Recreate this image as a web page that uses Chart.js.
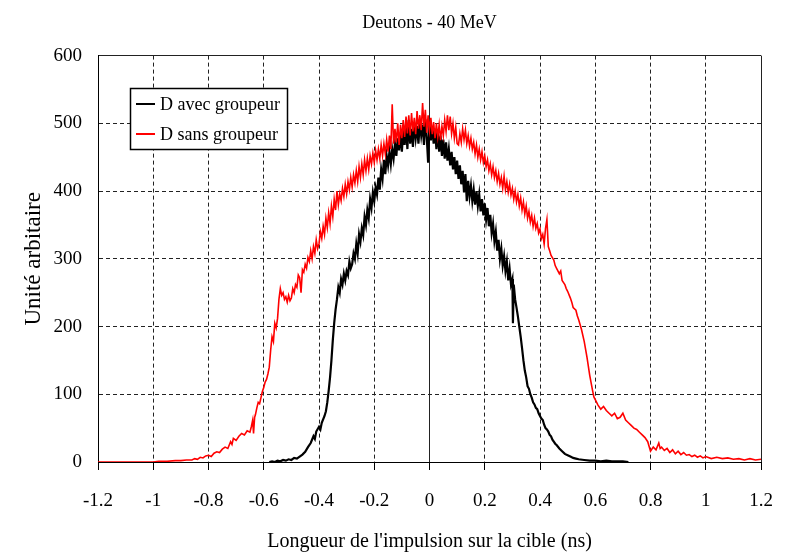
<!DOCTYPE html>
<html>
<head>
<meta charset="utf-8">
<script src="https://cdn.jsdelivr.net/npm/chart.js@4"></script>
<style>
  html, body { margin: 0; padding: 0; background: #fff; }
  canvas { display: block; }
</style>
</head>
<body>
<canvas id="c" width="786" height="553"></canvas>
<script>
const chartTitle = 'Deutons - 40 MeV';
const xTitle = "Longueur de l'impulsion sur la cible (ns)";
const yTitle = 'Unité arbitaire';
const seriesLabels = ['D avec groupeur', 'D sans groupeur'];
const xTickValues = [-1.2, -1, -0.8, -0.6, -0.4, -0.2, 0, 0.2, 0.4, 0.6, 0.8, 1, 1.2];
const yTickValues = [0, 100, 200, 300, 400, 500, 600];

// D avec groupeur  [x (ns), value]
const avecPoints = [
[-0.58,0],[-0.57,1],[-0.56,0],[-0.55,2],[-0.54,1],[-0.53,3],[-0.52,2],[-0.51,4],[-0.50,3],[-0.49,6],
[-0.48,5],[-0.47,8],[-0.46,11],[-0.45,15],[-0.44,22],[-0.43,28],[-0.42,38],[-0.415,34],[-0.41,45],[-0.40,52],
[-0.395,48],[-0.39,58],[-0.38,68],[-0.375,75],[-0.37,88],[-0.365,105],[-0.36,125],[-0.355,150],[-0.35,180],[-0.345,205],
[-0.34,225],[-0.335,240],[-0.33,258],[-0.325,250],[-0.32,270],[-0.315,262],[-0.31,278],[-0.305,268],[-0.30,282],[-0.295,276],
[-0.29,296],[-0.285,286],[-0.28,292],[-0.275,308],[-0.27,300],[-0.265,322],[-0.26,308],[-0.255,336],[-0.25,325],[-0.245,345],
[-0.24,335],[-0.235,362],[-0.23,350],[-0.225,372],[-0.22,360],[-0.215,388],[-0.21,375],[-0.205,398],[-0.20,385],[-0.195,405],
[-0.19,395],[-0.185,420],[-0.18,402],[-0.175,432],[-0.17,418],[-0.165,446],[-0.16,425],[-0.155,452],[-0.15,438],[-0.145,458],
[-0.14,440],[-0.135,462],[-0.13,448],[-0.125,470],[-0.12,452],[-0.115,478],[-0.11,460],[-0.105,486],[-0.10,458],[-0.095,490],
[-0.09,468],[-0.085,498],[-0.08,462],[-0.075,505],[-0.07,470],[-0.065,492],[-0.06,465],[-0.055,500],[-0.05,478],[-0.045,496],
[-0.04,470],[-0.035,502],[-0.03,482],[-0.025,498],[-0.02,468],[-0.015,506],[-0.01,480],[-0.005,442],[0.00,502],[0.005,475],
[0.01,495],[0.015,470],[0.02,492],[0.025,462],[0.03,488],[0.035,458],[0.04,482],[0.045,452],[0.05,476],[0.055,448],
[0.06,472],[0.065,445],[0.07,462],[0.075,438],[0.08,458],[0.085,432],[0.09,450],[0.095,425],[0.10,445],[0.105,418],
[0.11,438],[0.115,410],[0.12,430],[0.125,398],[0.13,425],[0.135,385],[0.14,415],[0.145,392],[0.15,408],[0.155,385],
[0.16,402],[0.165,380],[0.17,400],[0.175,378],[0.18,395],[0.185,370],[0.19,388],[0.195,364],[0.20,382],[0.205,358],
[0.21,375],[0.215,348],[0.22,365],[0.225,338],[0.23,352],[0.235,326],[0.24,340],[0.245,312],[0.25,328],[0.255,300],
[0.26,315],[0.265,290],[0.27,304],[0.275,282],[0.28,296],[0.285,268],[0.29,285],[0.295,262],[0.30,270],[0.302,205],
[0.305,262],[0.31,240],[0.315,228],[0.32,215],[0.325,200],[0.33,185],[0.335,168],[0.34,150],[0.345,135],[0.35,125],
[0.355,112],[0.36,108],[0.365,100],[0.37,95],[0.375,88],[0.38,85],[0.385,80],[0.39,78],[0.395,72],[0.40,68],
[0.405,64],[0.41,62],[0.415,55],[0.42,50],[0.425,48],[0.43,45],[0.435,40],[0.44,38],[0.445,33],[0.45,30],
[0.455,27],[0.46,25],[0.47,20],[0.48,16],[0.49,12],[0.50,10],[0.51,8],[0.52,6],[0.53,5],[0.54,4],
[0.56,3],[0.58,2],[0.60,2],[0.62,1],[0.64,2],[0.66,1],[0.70,1],[0.72,0]
];

// D sans groupeur  [x (ns), value]
const sansPoints = [
[-1.2,0],[-1.0,0],[-0.98,1],[-0.95,1],[-0.92,2],[-0.9,2],[-0.88,3],[-0.86,3],[-0.85,5],[-0.84,4],
[-0.83,7],[-0.82,6],[-0.81,9],[-0.80,10],[-0.79,8],[-0.78,13],[-0.77,15],[-0.76,14],[-0.75,19],[-0.74,22],
[-0.73,20],[-0.72,30],[-0.715,26],[-0.71,35],[-0.70,32],[-0.69,38],[-0.68,42],[-0.67,40],[-0.66,46],[-0.65,44],
[-0.645,52],[-0.64,62],[-0.637,42],[-0.633,66],[-0.63,70],[-0.625,80],[-0.62,88],[-0.615,86],[-0.61,95],[-0.605,104],
[-0.60,110],[-0.595,118],[-0.59,122],[-0.585,130],[-0.58,140],[-0.575,165],[-0.57,185],[-0.565,178],[-0.56,205],[-0.555,198],
[-0.55,212],[-0.545,240],[-0.54,256],[-0.535,246],[-0.53,250],[-0.525,240],[-0.52,244],[-0.515,236],[-0.51,246],[-0.505,238],
[-0.50,242],[-0.495,256],[-0.49,250],[-0.485,262],[-0.48,258],[-0.475,276],[-0.47,272],[-0.465,250],[-0.46,284],[-0.455,280],
[-0.45,292],[-0.445,286],[-0.44,302],[-0.435,296],[-0.43,312],[-0.425,300],[-0.42,318],[-0.415,308],[-0.41,328],[-0.405,315],
[-0.40,322],[-0.395,340],[-0.39,330],[-0.385,348],[-0.38,336],[-0.375,360],[-0.37,346],[-0.365,368],[-0.36,352],[-0.355,378],
[-0.35,362],[-0.345,388],[-0.34,372],[-0.335,400],[-0.33,380],[-0.325,396],[-0.32,386],[-0.315,404],[-0.31,392],[-0.305,410],
[-0.30,396],[-0.295,414],[-0.29,402],[-0.285,420],[-0.28,406],[-0.275,424],[-0.27,412],[-0.265,430],[-0.26,414],[-0.255,436],
[-0.25,420],[-0.245,440],[-0.24,424],[-0.235,446],[-0.23,430],[-0.225,448],[-0.22,432],[-0.215,452],[-0.21,440],[-0.205,456],
[-0.20,442],[-0.195,460],[-0.19,446],[-0.185,462],[-0.18,448],[-0.175,468],[-0.17,452],[-0.165,470],[-0.16,455],[-0.155,476],
[-0.15,458],[-0.145,482],[-0.14,462],[-0.135,528],[-0.13,470],[-0.125,492],[-0.12,472],[-0.115,500],[-0.11,468],[-0.105,498],
[-0.10,478],[-0.095,505],[-0.09,480],[-0.085,510],[-0.08,485],[-0.075,512],[-0.07,482],[-0.065,515],[-0.06,488],[-0.055,508],
[-0.05,484],[-0.045,518],[-0.04,492],[-0.035,512],[-0.03,490],[-0.025,530],[-0.02,495],[-0.015,520],[-0.01,486],[-0.005,512],
[0.00,490],[0.005,508],[0.01,484],[0.015,502],[0.02,478],[0.025,500],[0.03,480],[0.035,498],[0.04,475],[0.045,496],
[0.05,482],[0.055,505],[0.06,488],[0.065,512],[0.07,490],[0.075,510],[0.08,485],[0.085,500],[0.09,478],[0.095,494],
[0.10,470],[0.105,468],[0.11,485],[0.115,472],[0.12,492],[0.125,476],[0.13,490],[0.135,470],[0.14,482],[0.145,466],
[0.15,478],[0.155,462],[0.16,472],[0.165,455],[0.17,468],[0.175,450],[0.18,462],[0.185,446],[0.19,458],[0.195,442],
[0.20,452],[0.205,436],[0.21,446],[0.215,430],[0.22,440],[0.225,424],[0.23,436],[0.235,420],[0.24,430],[0.245,414],
[0.25,426],[0.255,410],[0.26,420],[0.265,404],[0.27,422],[0.275,402],[0.28,414],[0.285,398],[0.29,410],[0.295,394],
[0.30,404],[0.305,388],[0.31,400],[0.315,384],[0.32,395],[0.325,378],[0.33,390],[0.335,372],[0.34,384],[0.345,366],
[0.35,378],[0.355,360],[0.36,370],[0.365,354],[0.37,364],[0.375,348],[0.38,360],[0.385,345],[0.39,352],[0.395,338],
[0.40,344],[0.405,330],[0.41,336],[0.415,322],[0.42,345],[0.425,358],[0.43,318],[0.435,312],[0.44,305],[0.45,298],
[0.455,290],[0.46,286],[0.47,278],[0.475,282],[0.48,268],[0.49,262],[0.495,256],[0.50,252],[0.51,242],[0.515,236],
[0.52,228],[0.53,224],[0.535,216],[0.54,210],[0.55,196],[0.56,178],[0.57,155],[0.58,128],[0.59,106],[0.595,96],
[0.60,92],[0.61,84],[0.62,78],[0.63,82],[0.64,76],[0.65,72],[0.66,68],[0.67,72],[0.68,64],[0.69,66],
[0.70,72],[0.71,62],[0.72,58],[0.73,54],[0.74,50],[0.75,48],[0.76,44],[0.77,40],[0.78,36],[0.79,30],
[0.80,16],[0.81,22],[0.82,18],[0.83,28],[0.835,20],[0.84,22],[0.85,17],[0.86,20],[0.87,14],[0.88,18],
[0.89,12],[0.90,16],[0.91,11],[0.92,14],[0.93,10],[0.94,11],[0.95,8],[0.96,10],[0.97,7],[0.98,9],
[0.99,6],[1.00,8],[1.02,5],[1.04,7],[1.06,5],[1.08,6],[1.10,4],[1.12,5],[1.14,3],[1.16,5],
[1.18,3],[1.20,4]
];

const seriesColors = ['#000000', '#ff0000'];
const SERIF = '"Liberation Serif", "Times New Roman", "DejaVu Serif", serif';
Chart.defaults.font.family = SERIF;
Chart.defaults.color = '#000';

const toXY = pts => pts.map(([x, y]) => ({ x, y }));
const fmt = v => { const r = Math.round(v * 10) / 10; return (Object.is(r, -0) ? 0 : r).toString(); };

function dashFor(min, max) {
  return ctx => {
    if (!ctx.tick) return [];
    const v = ctx.tick.value;
    if (Math.abs(v) < 1e-9 || Math.abs(v - min) < 1e-9 || Math.abs(v - max) < 1e-9) return [];
    return [4, 3];
  };
}

const boxLegend = {
  id: 'boxLegend',
  afterDraw(chart) {
    const { ctx, chartArea } = chart;
    const x0 = Math.round(chartArea.left) + 32, y0 = Math.round(chartArea.top) + 32, w = 157, h = 61;
    ctx.save();
    ctx.fillStyle = '#fff';
    ctx.fillRect(x0, y0, w, h);
    ctx.strokeStyle = '#000';
    ctx.lineWidth = 1.5;
    ctx.strokeRect(x0 + 0.5, y0 + 0.5, w, h);
    ctx.font = '18px ' + SERIF;
    ctx.textBaseline = 'middle';
    ctx.textAlign = 'left';
    chart.data.datasets.forEach((ds, i) => {
      const y = y0 + 16 + i * 30;
      ctx.strokeStyle = ds.borderColor;
      ctx.lineWidth = 2;
      ctx.beginPath();
      ctx.moveTo(x0 + 6, y);
      ctx.lineTo(x0 + 25, y);
      ctx.stroke();
      ctx.fillStyle = '#000';
      ctx.fillText(ds.label, x0 + 30, y + 1);
    });
    ctx.restore();
  }
};

new Chart(document.getElementById('c'), {
  type: 'line',
  data: {
    datasets: [
      { label: seriesLabels[0], data: toXY(avecPoints), borderColor: seriesColors[0], borderWidth: 2.2, pointRadius: 0, tension: 0, order: 1 },
      { label: seriesLabels[1], data: toXY(sansPoints), borderColor: seriesColors[1], borderWidth: 1.6, pointRadius: 0, tension: 0, order: 0 }
    ]
  },
  options: {
    responsive: false,
    animation: false,
    devicePixelRatio: 1,
    layout: { padding: { left: 0, right: 25, top: 0, bottom: 0 } },
    plugins: {
      legend: { display: false },
      tooltip: { enabled: false },
      title: {
        display: true, text: chartTitle, fullSize: false, color: '#000',
        font: { size: 18, weight: 'normal', family: SERIF },
        padding: { top: 12, bottom: 22 }
      }
    },
    scales: {
      x: {
        type: 'linear', min: -1.2, max: 1.2,
        afterBuildTicks: s => { s.ticks = xTickValues.map(v => ({ value: v })); },
        afterFit: s => { s.height = 91; s.paddingLeft = 0; s.paddingRight = 0; },
        ticks: { font: { size: 19 }, color: '#000', padding: 20, maxRotation: 0, autoSkip: false, callback: v => fmt(v) },
        grid: { color: '#222', lineWidth: 1, drawTicks: true, tickLength: 8, tickColor: '#000', tickWidth: 1, tickBorderDash: [] },
        border: { display: true, color: '#000', width: 1, dash: dashFor(-1.2, 1.2) },
        title: { display: true, text: xTitle, font: { size: 20 }, color: '#000', padding: { top: 0, bottom: -1 } }
      },
      y: {
        type: 'linear', min: 0, max: 600,
        afterBuildTicks: s => { s.ticks = yTickValues.map(v => ({ value: v })); },
        afterFit: s => { s.width = 98; s.paddingTop = 0; s.paddingBottom = 0; },
        ticks: { font: { size: 19 }, color: '#000', padding: 16, callback: v => fmt(v) },
        grid: { color: '#222', lineWidth: 1, drawTicks: false },
        border: { display: true, color: '#000', width: 1, dash: dashFor(0, 600) },
        title: { display: true, text: yTitle, font: { size: 23 }, color: '#000', padding: { top: 20, bottom: 0 } }
      }
    }
  },
  plugins: [boxLegend]
});
</script>
</body>
</html>
